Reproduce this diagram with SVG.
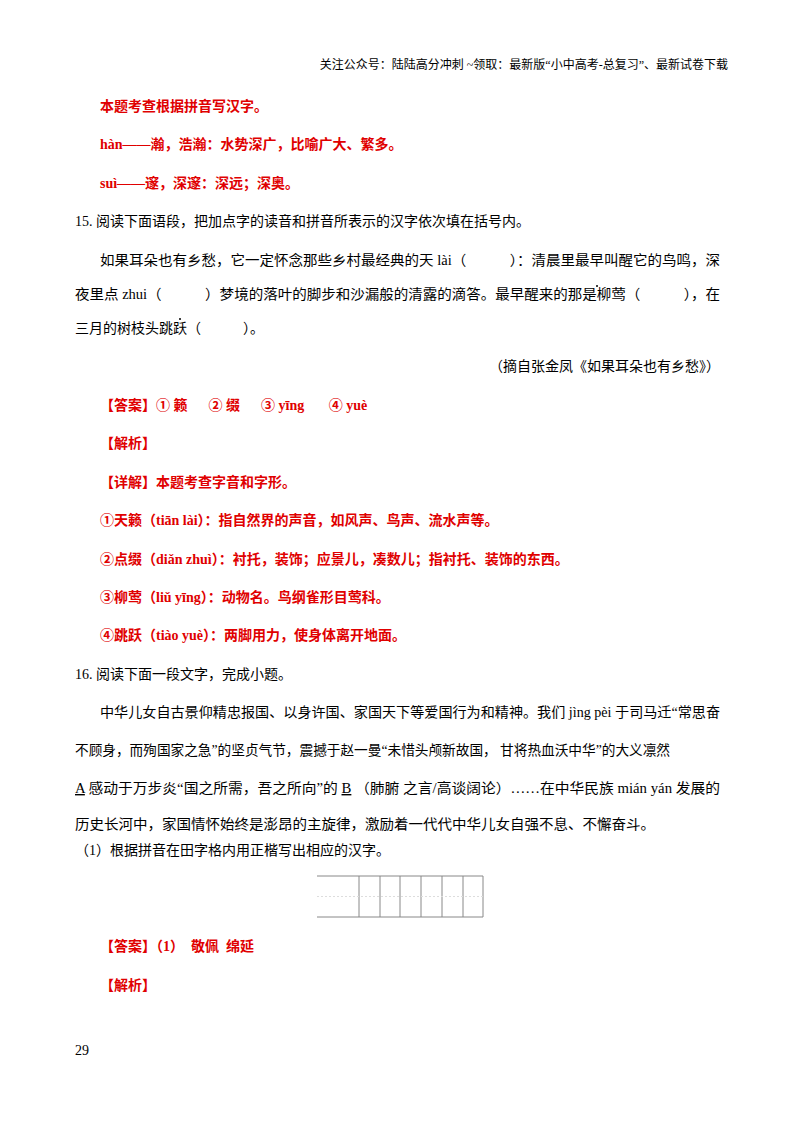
<svg xmlns="http://www.w3.org/2000/svg" width="800" height="1132" viewBox="0 0 800 1132">
<style>
text{font-family:"Liberation Serif","Noto Sans CJK SC",serif;font-size:14px;fill:#000}
.r{fill:#e00000;font-weight:bold}
.h{font-size:12px}
.g{stroke:#888;stroke-width:1;fill:none}
</style>
<rect width="800" height="1132" fill="#fff"/>
<text class="h" x="728" y="69" text-anchor="end">关注公众号：陆陆高分冲刺  ~领取：最新版“小中高考-总复习”、最新试卷下载</text>
<text class="r" x="100" y="111">本题考查根据拼音写汉字。</text>
<text class="r" x="100" y="149">hàn——瀚，浩瀚：水势深广，比喻广大、繁多。</text>
<text class="r" x="100" y="188">suì——邃，深邃：深远；深奥。</text>
<text x="75" y="226">15. 阅读下面语段，把加点字的读音和拼音所表示的汉字依次填在括号内。</text>
<text x="100" y="265" textLength="620" lengthAdjust="spacingAndGlyphs">如果耳朵也有乡愁，它一定怀念那些乡村最经典的天 lài（　　　）：清晨里最早叫醒它的鸟鸣，深</text>
<text x="75" y="299" textLength="645" lengthAdjust="spacingAndGlyphs">夜里点 zhui（　　　）梦境的落叶的脚步和沙漏般的清露的滴答。最早醒来的那是柳莺（　　　），在</text>
<circle cx="597" cy="286" r="1" fill="#000"/>
<text x="75" y="333">三月的树枝头跳跃（　　　）。</text>
<circle cx="180" cy="319" r="1" fill="#000"/>
<text x="720" y="371" text-anchor="end">（摘自张金凤《如果耳朵也有乡愁》）</text>
<text class="r" x="100" y="410" xml:space="preserve">【答案】① 籁　  ② 缀　  ③ yīng　   ④ yuè</text>
<text class="r" x="100" y="448">【解析】</text>
<text class="r" x="100" y="487">【详解】本题考查字音和字形。</text>
<text class="r" x="100" y="525">①天籁（tiān lài）：指自然界的声音，如风声、鸟声、流水声等。</text>
<text class="r" x="100" y="564">②点缀（diǎn zhuì）：衬托，装饰；应景儿，凑数儿；指衬托、装饰的东西。</text>
<text class="r" x="100" y="602">③柳莺（liǔ yīng）：动物名。鸟纲雀形目莺科。</text>
<text class="r" x="100" y="640">④跳跃（tiào yuè）：两脚用力，使身体离开地面。</text>
<text x="75" y="679">16. 阅读下面一段文字，完成小题。</text>
<text x="100" y="717" textLength="620" lengthAdjust="spacingAndGlyphs">中华儿女自古景仰精忠报国、以身许国、家国天下等爱国行为和精神。我们 jìng pèi 于司马迁“常思奋</text>
<text x="75" y="755" textLength="595" lengthAdjust="spacingAndGlyphs">不顾身，而殉国家之急”的坚贞气节，震撼于赵一曼“未惜头颅新故国， 甘将热血沃中华”的大义凛然</text>
<text x="75" y="793" textLength="645" lengthAdjust="spacingAndGlyphs"><tspan text-decoration="underline">A</tspan> 感动于万步炎“国之所需，吾之所向”的 <tspan text-decoration="underline">B</tspan> （肺腑 之言/高谈阔论）……在中华民族 mián yán 发展的</text>
<text x="75" y="829" textLength="580" lengthAdjust="spacingAndGlyphs">历史长河中，家国情怀始终是澎昂的主旋律，激励着一代代中华儿女自强不息、不懈奋斗。</text>
<text x="75" y="855">（1）根据拼音在田字格内用正楷写出相应的汉字。</text>
<g id="grid">
<path class="g" d="M317 876H483M317 917H483M359 876V917M380 876V917M400 876V917M421 876V917M442 876V917M463 876V917M483 876V917"/>
<path d="M317 896.5H483" stroke="#ddd" stroke-dasharray="2 2"/>
</g>
<text class="r" x="100" y="951" xml:space="preserve">【答案】（1）  敬佩  绵延</text>
<text class="r" x="100" y="990">【解析】</text>
<text x="75" y="1055">29</text>
</svg>
